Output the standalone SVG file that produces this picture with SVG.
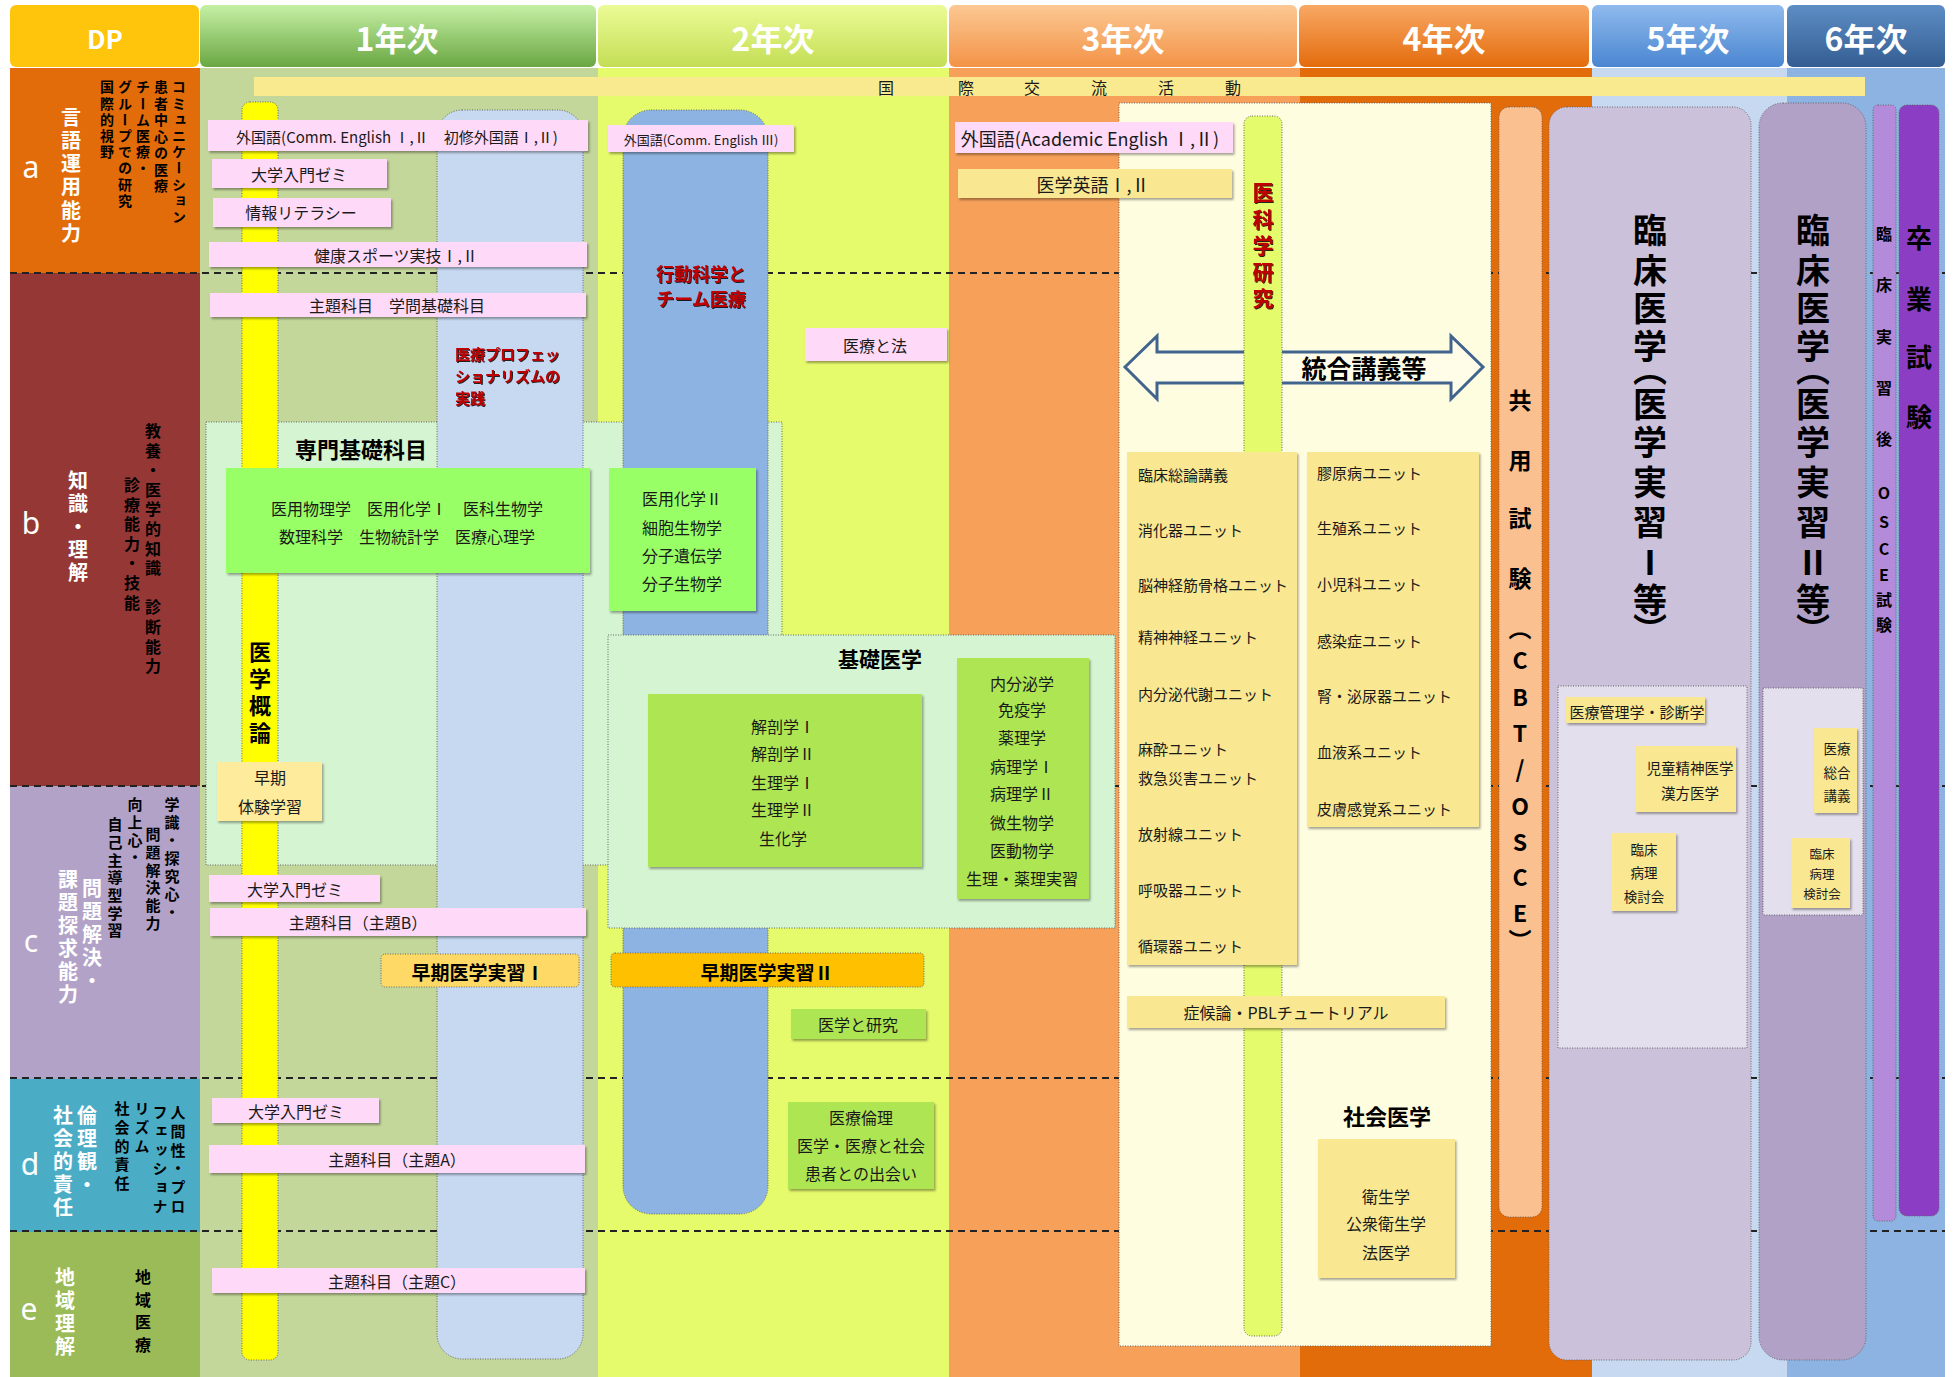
<svg xmlns="http://www.w3.org/2000/svg" width="1959" height="1377" viewBox="0 0 1959 1377">
<defs>
<linearGradient id="g1" x1="0" y1="0" x2="0" y2="1"><stop offset="0" stop-color="#C5F0A4"/><stop offset="1" stop-color="#6AA743"/></linearGradient>
<linearGradient id="g2" x1="0" y1="0" x2="0" y2="1"><stop offset="0" stop-color="#ECFB96"/><stop offset="1" stop-color="#C3DE55"/></linearGradient>
<linearGradient id="g3" x1="0" y1="0" x2="0" y2="1"><stop offset="0" stop-color="#FCC893"/><stop offset="1" stop-color="#F39347"/></linearGradient>
<linearGradient id="g4" x1="0" y1="0" x2="0" y2="1"><stop offset="0" stop-color="#F8A865"/><stop offset="1" stop-color="#E46C0C"/></linearGradient>
<linearGradient id="g5" x1="0" y1="0" x2="0" y2="1"><stop offset="0" stop-color="#8FBAEE"/><stop offset="1" stop-color="#4A86D0"/></linearGradient>
<linearGradient id="g6" x1="0" y1="0" x2="0" y2="1"><stop offset="0" stop-color="#5D8DC5"/><stop offset="1" stop-color="#345E92"/></linearGradient>
<filter id="sh" x="-10%" y="-20%" width="125%" height="150%"><feDropShadow dx="1.5" dy="2" stdDeviation="1.3" flood-color="#000" flood-opacity="0.35"/></filter>
<filter id="ts" x="-10%" y="-10%" width="130%" height="130%"><feDropShadow dx="1" dy="1" stdDeviation="0.7" flood-color="#000" flood-opacity="0.85"/></filter>
<style>
text{font-family:"Noto Sans CJK JP","Noto Sans",sans-serif;fill:#1a1a1a;}
.c{text-anchor:middle;dominant-baseline:central;}
.l{text-anchor:start;dominant-baseline:central;}
.v{writing-mode:vertical-rl;text-orientation:upright;text-anchor:start;}
.b{font-weight:700;}
text.w{fill:#fff;}
text.k{fill:#000;}
text.hd{fill:#fff;font-weight:700;font-size:32px;}
text.lt{font-family:"Noto Sans",sans-serif;font-weight:400;}
text.red{fill:#C00000;font-weight:700;filter:url(#ts);}
.dot{stroke:#666;stroke-width:1;stroke-dasharray:1 1.5;}
.pink{fill:#FFDAF8;filter:url(#sh);}
.yel{fill:#F9E791;filter:url(#sh);}
.grn{fill:#AEE552;filter:url(#sh);}
.lime{fill:#99FF66;filter:url(#sh);}
.pale{fill:#D5F4D1;}
.dash{stroke:#222;stroke-width:2;stroke-dasharray:7 5;fill:none;}
</style>
</defs>

<g id="header">
<rect x="10" y="5" width="189" height="62" rx="6" fill="#FFC40C"/>
<text x="105" y="37" class="c b w" font-size="26">DP</text>
<rect x="200" y="5" width="396" height="62" rx="6" fill="url(#g1)"/>
<text x="397" y="37" class="c hd">1年次</text>
<rect x="598" y="5" width="349" height="62" rx="6" fill="url(#g2)"/>
<text x="773" y="37" class="c hd">2年次</text>
<rect x="949" y="5" width="348" height="62" rx="6" fill="url(#g3)"/>
<text x="1123" y="37" class="c hd">3年次</text>
<rect x="1299" y="5" width="290" height="62" rx="6" fill="url(#g4)"/>
<text x="1444" y="37" class="c hd">4年次</text>
<rect x="1592" y="5" width="192" height="62" rx="6" fill="url(#g5)"/>
<text x="1688" y="37" class="c hd">5年次</text>
<rect x="1787" y="5" width="158" height="62" rx="6" fill="url(#g6)"/>
<text x="1866" y="37" class="c hd">6年次</text>
</g>

<g id="columns">
<rect x="10" y="68" width="190" height="205" fill="#E36C0A"/>
<rect x="10" y="273" width="190" height="513" fill="#953735"/>
<rect x="10" y="786" width="190" height="293" fill="#B2A2C7"/>
<rect x="10" y="1079" width="190" height="153" fill="#4BACC6"/>
<rect x="10" y="1232" width="190" height="145" fill="#9BBB59"/>
<rect x="200" y="68" width="398" height="1309" fill="#C4D79B"/>
<rect x="598" y="68" width="351" height="1309" fill="#E5FB6C"/>
<rect x="949" y="68" width="351" height="1309" fill="#F6A05A"/>
<rect x="1300" y="68" width="292" height="1309" fill="#E36C0A"/>
<rect x="1592" y="68" width="195" height="1309" fill="#C6D9F1"/>
<rect x="1787" y="68" width="158" height="1309" fill="#8DB3E2"/>
</g>

<g id="band">
<rect x="254" y="77" width="1611" height="19" fill="#F9E98F"/>
<text y="87" class="c" font-size="16"><tspan x="886">国</tspan><tspan x="966">際</tspan><tspan x="1032">交</tspan><tspan x="1099">流</tspan><tspan x="1166">活</tspan><tspan x="1233">動</tspan></text>
</g>

<g id="separators">
<line class="dash" x1="10" y1="273" x2="1945" y2="273"/>
<line class="dash" x1="10" y1="786" x2="1945" y2="786"/>
<line class="dash" x1="10" y1="1078" x2="1945" y2="1078"/>
<line class="dash" x1="10" y1="1231" x2="1945" y2="1231"/>
</g>

<g id="dp-a">
<text x="31" y="166" class="c w lt" font-size="30">a</text>
<text x="71" y="107" class="v b w" font-size="20" letter-spacing="3.3">言語運用能力</text>
<text x="179" y="80" class="v b k" font-size="14" letter-spacing="2.2">コミュニケーション</text>
<text x="161" y="80" class="v b k" font-size="14" letter-spacing="2.5">患者中心の医療</text>
<text x="143" y="80" class="v b k" font-size="14" letter-spacing="2.2">チーム医療・</text>
<text x="125" y="80" class="v b k" font-size="14" letter-spacing="2.2">グループでの研究</text>
<text x="107" y="80" class="v b k" font-size="14" letter-spacing="2.2">国際的視野</text>
</g>
<g id="dp-b">
<text x="31" y="522" class="c w lt" font-size="30">b</text>
<text x="78" y="470" class="v b w" font-size="20" letter-spacing="3">知識・理解</text>
<text x="153" y="423" class="v b k" font-size="16" letter-spacing="3.6">教養・医学的知識　診断能力</text>
<text x="132" y="477" class="v b k" font-size="16" letter-spacing="3.6">診療能力・技能</text>
</g>
<g id="dp-c">
<text x="31" y="940" class="c w lt" font-size="30">c</text>
<text x="68" y="869" class="v b w" font-size="20" letter-spacing="3">課題探求能力</text>
<text x="92" y="878" class="v b w" font-size="20" letter-spacing="3">問題解決・</text>
<text x="115" y="817" class="v b k" font-size="15" letter-spacing="2.7">自己主導型学習</text>
<text x="135" y="797" class="v b k" font-size="15" letter-spacing="2.7">向上心・</text>
<text x="153" y="827" class="v b k" font-size="15" letter-spacing="2.7">問題解決能力</text>
<text x="172" y="797" class="v b k" font-size="15" letter-spacing="3">学識・探究心・</text>
</g>
<g id="dp-d">
<text x="30" y="1163" class="c w lt" font-size="30">d</text>
<text x="63" y="1105" class="v b w" font-size="20" letter-spacing="3">社会的責任</text>
<text x="87" y="1105" class="v b w" font-size="20" letter-spacing="3">倫理観・</text>
<text x="122" y="1101" class="v b k" font-size="15" letter-spacing="3.7">社会的責任</text>
<text x="142" y="1101" class="v b k" font-size="15" letter-spacing="3.7">リズム</text>
<text x="160" y="1105" class="v b k" font-size="15" letter-spacing="3.7">フェッショナ</text>
<text x="178" y="1105" class="v b k" font-size="15" letter-spacing="3.7">人間性・プロ</text>
</g>
<g id="dp-e">
<text x="29" y="1308" class="c w lt" font-size="30">e</text>
<text x="65" y="1267" class="v b w" font-size="20" letter-spacing="3">地域理解</text>
<text x="143" y="1269" class="v b k" font-size="16" letter-spacing="6.5">地域医療</text>
</g>

<g id="senmon-kiso-area">
<rect class="pale dot" x="206" y="422" width="576" height="443"/>
</g>

<g id="year4-area">
<rect x="1119" y="103" width="372" height="1243" fill="#FFFDE0" class="dot"/>
</g>

<g id="igaku-gairon">
<rect x="242" y="102" width="36" height="1258" rx="8" fill="#FFFF00" class="dot"/>
<text x="260" y="641" class="v b k" font-size="22" letter-spacing="5">医学概論</text>
</g>

<g id="professionalism">
<rect x="437" y="110" width="146" height="1249" rx="25" fill="#C6D9F1" class="dot"/>
<text class="l red" font-size="15"><tspan x="455" y="353">医療プロフェッ</tspan><tspan x="455" y="375">ショナリズムの</tspan><tspan x="455" y="397">実践</tspan></text>
</g>

<g id="kodo-kagaku">
<rect x="623" y="110" width="145" height="1104" rx="28" fill="#8DB3E2" class="dot"/>
<text class="c red" font-size="18"><tspan x="701" y="273">行動科学と</tspan><tspan x="701" y="298">チーム医療</tspan></text>
</g>

<g id="kiso-igaku">
<rect class="pale dot" x="608" y="635" width="507" height="293"/>
<text x="880" y="658" class="c b k" font-size="21">基礎医学</text>
<rect class="grn" x="648" y="694" width="274" height="173"/>
<text class="c" font-size="16"><tspan x="783" y="726">解剖学Ⅰ</tspan><tspan x="783" y="753">解剖学Ⅱ</tspan><tspan x="783" y="782">生理学Ⅰ</tspan><tspan x="783" y="809">生理学Ⅱ</tspan><tspan x="783" y="838">生化学</tspan></text>
<rect class="grn" x="957" y="658" width="132" height="241"/>
<text class="c" font-size="16"><tspan x="1022" y="683">内分泌学</tspan><tspan x="1022" y="709">免疫学</tspan><tspan x="1022" y="737">薬理学</tspan><tspan x="1022" y="766">病理学Ⅰ</tspan><tspan x="1022" y="793">病理学Ⅱ</tspan><tspan x="1022" y="822">微生物学</tspan><tspan x="1022" y="850">医動物学</tspan><tspan x="1022" y="878">生理・薬理実習</tspan></text>
</g>

<g id="y1-courses">
<rect class="pink" x="208" y="120" width="380" height="31"/>
<text x="397" y="136" class="c" font-size="15">外国語(Comm. English Ⅰ,Ⅱ　初修外国語Ⅰ,Ⅱ)</text>
<rect class="pink" x="212" y="159" width="175" height="29"/>
<text x="299" y="174" class="c" font-size="16">大学入門ゼミ</text>
<rect class="pink" x="213" y="198" width="178" height="29"/>
<text x="301" y="212" class="c" font-size="16">情報リテラシー</text>
<rect class="pink" x="209" y="242" width="378" height="25"/>
<text x="396" y="255" class="c" font-size="16">健康スポーツ実技Ⅰ,Ⅱ</text>
<rect class="pink" x="210" y="293" width="376" height="24"/>
<text x="397" y="305" class="c" font-size="16">主題科目　学問基礎科目</text>
</g>

<g id="senmon-kiso">
<text x="361" y="448" class="c b k" font-size="22">専門基礎科目</text>
<rect class="lime" x="226" y="468" width="364" height="105"/>
<text class="c" font-size="16"><tspan x="407" y="508">医用物理学　医用化学Ⅰ　医科生物学</tspan><tspan x="407" y="536">数理科学　生物統計学　医療心理学</tspan></text>
<rect class="lime" x="609" y="468" width="147" height="143"/>
<text class="c" font-size="16"><tspan x="682" y="498">医用化学Ⅱ</tspan><tspan x="682" y="527">細胞生物学</tspan><tspan x="682" y="555">分子遺伝学</tspan><tspan x="682" y="583">分子生物学</tspan></text>
</g>

<g id="soki-taiken">
<rect x="217" y="762" width="105" height="59" fill="#FFEB9C" filter="url(#sh)"/>
<text class="c" font-size="16"><tspan x="270" y="777">早期</tspan><tspan x="270" y="806">体験学習</tspan></text>
</g>

<g id="y1-lower">
<rect class="pink" x="209" y="875" width="171" height="27"/>
<text x="295" y="889" class="c" font-size="16">大学入門ゼミ</text>
<rect class="pink" x="210" y="908" width="376" height="28"/>
<text x="358" y="922" class="c" font-size="16">主題科目（主題B）</text>
<rect x="381" y="954" width="198" height="33" rx="4" fill="#FFD966" class="dot"/>
<text x="478" y="971" class="c b k" font-size="19">早期医学実習Ⅰ</text>
<rect class="pink" x="212" y="1098" width="167" height="25"/>
<text x="296" y="1111" class="c" font-size="16">大学入門ゼミ</text>
<rect class="pink" x="209" y="1145" width="376" height="28"/>
<text x="397" y="1159" class="c" font-size="16">主題科目（主題A）</text>
<rect class="pink" x="212" y="1268" width="373" height="25"/>
<text x="397" y="1281" class="c" font-size="16">主題科目（主題C）</text>
</g>

<g id="y2-courses">
<rect class="pink" x="608" y="125" width="186" height="27"/>
<text x="701" y="139" class="c" font-size="13">外国語(Comm. English Ⅲ)</text>
<rect class="pink" x="805" y="328" width="142" height="33"/>
<text x="875" y="345" class="c" font-size="16">医療と法</text>
<rect x="611" y="953" width="313" height="34" rx="4" fill="#FFC000" class="dot"/>
<text x="767" y="971" class="c b k" font-size="19">早期医学実習Ⅱ</text>
<rect class="grn" x="791" y="1009" width="135" height="30"/>
<text x="858" y="1024" class="c" font-size="16">医学と研究</text>
<rect class="grn" x="788" y="1102" width="146" height="87"/>
<text class="c" font-size="16"><tspan x="861" y="1117">医療倫理</tspan><tspan x="861" y="1145">医学・医療と社会</tspan><tspan x="861" y="1173">患者との出会い</tspan></text>
</g>

<g id="y3-lang">
<rect class="pink" x="955" y="122" width="278" height="31"/>
<text x="1090" y="138" class="c" font-size="18">外国語(Academic English Ⅰ,Ⅱ)</text>
<rect class="yel" x="958" y="169" width="274" height="29"/>
<text x="1093" y="184" class="c" font-size="18">医学英語Ⅰ,Ⅱ</text>
</g>

<g id="connectors">
<path d="M1125,367 L1157,336 L1157,352 L1451,352 L1451,336 L1483,367 L1451,399 L1451,383 L1157,383 L1157,399 Z" fill="#FFFDE8" stroke="#41648F" stroke-width="3" stroke-linejoin="miter"/>
</g>

<g id="ikagaku-kenkyu">
<rect x="1244" y="116" width="38" height="1220" rx="8" fill="#E4FB6C" class="dot"/>
<text x="1263" y="182" class="v red" font-size="21" letter-spacing="5.5">医科学研究</text>
</g>

<g id="togo-kogi">
<text x="1364" y="367" class="c b k" font-size="25">統合講義等</text>
</g>

<g id="units">
<rect class="yel" x="1127" y="452" width="170" height="513"/>
<text class="l" font-size="15"><tspan x="1138" y="474">臨床総論講義</tspan><tspan x="1138" y="529">消化器ユニット</tspan><tspan x="1138" y="584">脳神経筋骨格ユニット</tspan><tspan x="1138" y="636">精神神経ユニット</tspan><tspan x="1138" y="693">内分泌代謝ユニット</tspan><tspan x="1138" y="748">麻酔ユニット</tspan><tspan x="1138" y="777">救急災害ユニット</tspan><tspan x="1138" y="833">放射線ユニット</tspan><tspan x="1138" y="889">呼吸器ユニット</tspan><tspan x="1138" y="945">循環器ユニット</tspan></text>
<rect class="yel" x="1307" y="452" width="172" height="375"/>
<text class="l" font-size="15"><tspan x="1317" y="472">膠原病ユニット</tspan><tspan x="1317" y="527">生殖系ユニット</tspan><tspan x="1317" y="583">小児科ユニット</tspan><tspan x="1317" y="640">感染症ユニット</tspan><tspan x="1317" y="695">腎・泌尿器ユニット</tspan><tspan x="1317" y="751">血液系ユニット</tspan><tspan x="1317" y="808">皮膚感覚系ユニット</tspan></text>
</g>

<g id="pbl">
<rect class="yel" x="1127" y="996" width="318" height="32"/>
<text x="1286" y="1012" class="c" font-size="16">症候論・PBLチュートリアル</text>
</g>

<g id="shakai-igaku">
<text x="1387" y="1115" class="c b k" font-size="22">社会医学</text>
<rect class="yel" x="1318" y="1139" width="137" height="139"/>
<text class="c" font-size="16"><tspan x="1386" y="1196">衛生学</tspan><tspan x="1386" y="1223">公衆衛生学</tspan><tspan x="1386" y="1252">法医学</tspan></text>
</g>

<g id="kyoyo-shiken">
<rect x="1499" y="107" width="43" height="1110" rx="10" fill="#FAC090" class="dot"/>
<text x="1520" class="v b k" font-size="23"><tspan y="388.5">共</tspan><tspan y="448.5">用</tspan><tspan y="506.5">試</tspan><tspan y="566.5">験</tspan><tspan y="617">（</tspan><tspan y="648.5">C</tspan><tspan y="685.5">B</tspan><tspan y="721.5">T</tspan><tspan y="757.5">/</tspan><tspan y="794.5">O</tspan><tspan y="830.5">S</tspan><tspan y="865.5">C</tspan><tspan y="901.5">E</tspan><tspan y="929">）</tspan></text>
</g>

<g id="rinsho-1">
<rect x="1549" y="107" width="202" height="1253" rx="18" fill="#CCC1DA" class="dot"/>
<text x="1650" class="v b k" font-size="34"><tspan y="213">臨</tspan><tspan y="253">床</tspan><tspan y="291">医</tspan><tspan y="329">学</tspan><tspan y="352">（</tspan><tspan y="387">医</tspan><tspan y="425">学</tspan><tspan y="465">実</tspan><tspan y="505">習</tspan><tspan y="545">Ⅰ</tspan><tspan y="583">等</tspan><tspan y="613">）</tspan></text>
<rect x="1558" y="686" width="189" height="362" fill="#E4DFEC" class="dot"/>
<rect class="yel" x="1566" y="697" width="139" height="26"/>
<text x="1637" y="711" class="c" font-size="15">医療管理学・診断学</text>
<rect class="yel" x="1635" y="746" width="101" height="66"/>
<text class="c" font-size="14.5"><tspan x="1690" y="767">児童精神医学</tspan><tspan x="1690" y="792">漢方医学</tspan></text>
<rect class="yel" x="1611" y="833" width="65" height="78"/>
<text class="c" font-size="13.5"><tspan x="1644" y="849">臨床</tspan><tspan x="1644" y="872">病理</tspan><tspan x="1644" y="896">検討会</tspan></text>
</g>

<g id="rinsho-2">
<rect x="1759" y="103" width="107" height="1257" rx="24" fill="#B2A1C7" class="dot"/>
<text x="1813" class="v b k" font-size="34"><tspan y="213">臨</tspan><tspan y="253">床</tspan><tspan y="291">医</tspan><tspan y="329">学</tspan><tspan y="352">（</tspan><tspan y="387">医</tspan><tspan y="425">学</tspan><tspan y="465">実</tspan><tspan y="505">習</tspan><tspan y="545">Ⅱ</tspan><tspan y="583">等</tspan><tspan y="613">）</tspan></text>
<rect x="1763" y="688" width="100" height="227" fill="#E4DFEC" class="dot"/>
<rect class="yel" x="1814" y="728" width="43" height="85"/>
<text class="c" font-size="13.5"><tspan x="1837" y="748">医療</tspan><tspan x="1837" y="772">総合</tspan><tspan x="1837" y="795">講義</tspan></text>
<rect class="yel" x="1791" y="838" width="59" height="70"/>
<text class="c" font-size="12.5"><tspan x="1822" y="853">臨床</tspan><tspan x="1822" y="873">病理</tspan><tspan x="1822" y="893">検討会</tspan></text>
</g>

<g id="osce">
<rect x="1873" y="105" width="23" height="1116" rx="5" fill="#B48ADA" class="dot"/>
<text x="1884" class="v b k" font-size="16"><tspan y="226">臨</tspan><tspan y="277">床</tspan><tspan y="329">実</tspan><tspan y="380">習</tspan><tspan y="431">後</tspan><tspan y="485">O</tspan><tspan y="514">S</tspan><tspan y="541">C</tspan><tspan y="567">E</tspan><tspan y="592">試</tspan><tspan y="617">験</tspan></text>
</g>

<g id="sotsugyo">
<rect x="1899" y="105" width="40" height="1111" rx="8" fill="#8B3EC4" class="dot"/>
<text x="1919" class="v b k" font-size="26"><tspan y="225">卒</tspan><tspan y="286">業</tspan><tspan y="344">試</tspan><tspan y="404">験</tspan></text>
</g>
</svg>
